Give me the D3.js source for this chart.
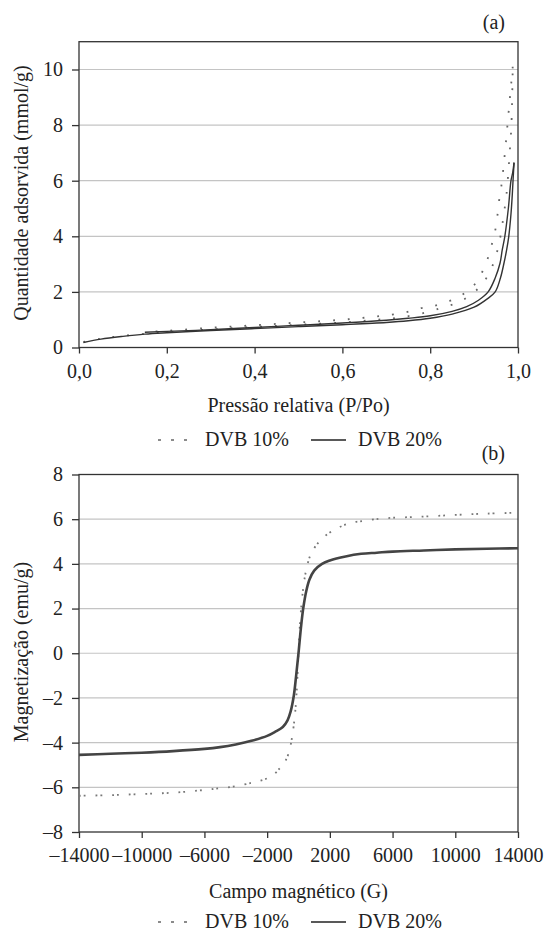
<!DOCTYPE html>
<html>
<head>
<meta charset="utf-8">
<script src="https://cdn.jsdelivr.net/npm/d3@7"></script>
<style>
  body { margin: 0; background: #fff; }
  text { font-family: 'Liberation Serif' !important; }
</style>
</head>
<body>
<div id="chart"></div>
<script>
// (a) adsorption isotherms, relative pressure P/Po vs mmol/g
var dvb10AdsP = [0.01, 0.05, 0.1, 0.2, 0.3, 0.4, 0.5, 0.6, 0.68, 0.74, 0.8, 0.83, 0.862, 0.892, 0.917, 0.936, 0.948, 0.957, 0.963, 0.968, 0.973, 0.977, 0.981, 0.985, 0.988];
var dvb10AdsQ = [0.2, 0.32, 0.42, 0.55, 0.65, 0.74, 0.82, 0.9, 1.0, 1.1, 1.3, 1.45, 1.61, 1.89, 2.25, 2.73, 3.21, 3.75, 4.29, 4.83, 5.4, 6.1, 7.0, 8.0, 10.1];
var dvb10DesP = [0.988, 0.984, 0.98, 0.976, 0.972, 0.967, 0.962, 0.957, 0.953, 0.948, 0.94, 0.93, 0.917, 0.898, 0.872, 0.841, 0.807, 0.777, 0.74, 0.68, 0.6, 0.5, 0.4, 0.3, 0.2, 0.15];
var dvb10DesQ = [10.1, 9.4, 8.7, 8.0, 7.3, 6.5, 5.8, 5.28, 4.73, 4.2, 3.69, 3.15, 2.67, 2.21, 1.89, 1.65, 1.49, 1.41, 1.25, 1.12, 1.0, 0.9, 0.8, 0.71, 0.6, 0.56];
var dvb20AdsP = [0.01, 0.05, 0.1, 0.15, 0.2, 0.3, 0.4, 0.5, 0.6, 0.7, 0.75, 0.8, 0.85, 0.9, 0.93, 0.948, 0.96, 0.968, 0.974, 0.979, 0.984, 0.987, 0.989, 0.991];
var dvb20AdsQ = [0.18, 0.3, 0.4, 0.48, 0.53, 0.61, 0.68, 0.75, 0.82, 0.9, 0.96, 1.05, 1.2, 1.45, 1.75, 2.0, 2.5, 3.03, 3.5, 4.0, 4.8, 5.5, 6.1, 6.65];
var dvb20DesP = [0.991, 0.988, 0.984, 0.978, 0.97, 0.964, 0.959, 0.948, 0.932, 0.91, 0.883, 0.85, 0.8, 0.75, 0.7, 0.6, 0.5, 0.4, 0.3, 0.2, 0.15];
var dvb20DesQ = [6.65, 6.3, 6.0, 5.0, 4.0, 3.5, 3.03, 2.5, 2.0, 1.7, 1.47, 1.3, 1.14, 1.05, 0.98, 0.88, 0.8, 0.72, 0.64, 0.58, 0.55];

// (b) magnetization curves, field G vs emu/g
var dvb10Field = [-14000, -12000, -10000, -8000, -6000, -5000, -4000, -3000, -2500, -2000, -1500, -1200, -900, -640, -420, -220, -100, 0, 100, 250, 400, 600, 800, 1150, 1700, 2500, 3300, 4200, 5500, 7700, 10000, 12000, 14000];
var dvb10Mag = [-6.38, -6.35, -6.3, -6.24, -6.12, -6.04, -5.95, -5.8, -5.72, -5.6, -5.38, -5.15, -4.9, -4.5, -3.8, -2.7, -1.5, 0, 1.4, 2.6, 3.4, 4.05, 4.45, 4.85, 5.25, 5.6, 5.83, 5.93, 6.04, 6.11, 6.19, 6.25, 6.29];
var dvb20Field = [-14000, -12000, -10000, -8000, -6000, -5000, -4000, -3000, -2000, -1500, -1000, -700, -500, -300, -150, 0, 150, 300, 500, 700, 1000, 1500, 2000, 3000, 4000, 5000, 6000, 8000, 10000, 12000, 14000];
var dvb20Mag = [-4.55, -4.5, -4.45, -4.38, -4.28, -4.2, -4.08, -3.92, -3.7, -3.52, -3.3, -3.0, -2.6, -1.9, -1.0, 0, 1.1, 2.0, 2.8, 3.3, 3.7, 4.0, 4.15, 4.33, 4.45, 4.5, 4.55, 4.6, 4.65, 4.68, 4.7];

var topXTicks = [0, 0.2, 0.4, 0.6, 0.8, 1.0];
var topYTicks = [0, 2, 4, 6, 8, 10];
var botXTicks = [-14000, -10000, -6000, -2000, 2000, 6000, 10000, 14000];
var botYTicks = [-8, -6, -4, -2, 0, 2, 4, 6, 8];
var legendNames = ["DVB 10%", "DVB 20%"];

var W = 545, H = 932;
var plotLeft = 79, plotRight = 518;
var SERIF = "Liberation Serif";

var svg = d3.select("#chart").append("svg")
  .attr("width", W)
  .attr("height", H)
  .attr("font-family", SERIF);

function zip(xs, ys) {
  return xs.map(function(x, i) { return { x: x, y: ys[i] }; });
}

function dash(v) {
  var s = Math.abs(v).toString();
  return v < 0 ? "\u2013" + s : s;
}

function addText(parent) {
  return parent.append("text")
    .attr("font-family", SERIF)
    .attr("font-size", 20)
    .attr("fill", "#222");
}

function drawPanel(cfg) {
  var x = d3.scaleLinear().domain(cfg.xDomain).range([plotLeft, plotRight]);
  var y = d3.scaleLinear().domain(cfg.yDomain).range([cfg.bottom, cfg.top]);
  var g = svg.append("g");

  // gridlines
  g.selectAll(".grid")
    .data(cfg.yTicks.filter(function(d) { return d > cfg.yDomain[0] && d < cfg.yDomain[1]; }))
    .enter()
    .append("line")
    .attr("x1", plotLeft)
    .attr("x2", plotRight)
    .attr("y1", function(d) { return y(d); })
    .attr("y2", function(d) { return y(d); })
    .attr("stroke", "#c4c4c4")
    .attr("stroke-width", 1.2);

  // frame
  g.append("rect")
    .attr("x", plotLeft)
    .attr("y", cfg.top)
    .attr("width", plotRight - plotLeft)
    .attr("height", cfg.bottom - cfg.top)
    .attr("fill", "none")
    .attr("stroke", "#333")
    .attr("stroke-width", 1.3);

  var line = d3.line()
    .x(function(d) { return x(d.x); })
    .y(function(d) { return y(d.y); })
    .curve(d3.curveCatmullRom.alpha(0.5));

  cfg.series.forEach(function(s) {
    g.append("path")
      .datum(s.data)
      .attr("d", line)
      .attr("fill", "none")
      .attr("stroke", s.color)
      .attr("stroke-width", s.width)
      .attr("stroke-dasharray", s.dash || null);
  });

  // axes
  var xAxis = d3.axisBottom(x)
    .tickValues(cfg.xTicks)
    .tickSize(6)
    .tickPadding(10)
    .tickFormat(cfg.xFormat);
  var gx = g.append("g")
    .attr("transform", "translate(0," + cfg.bottom + ")")
    .call(xAxis)
    .attr("font-family", SERIF)
    .attr("font-size", 20);
  gx.select(".domain").remove();
  gx.selectAll("line").attr("stroke", "#333").attr("stroke-width", 1.3);
  gx.selectAll("text").attr("fill", "#222").attr("font-family", SERIF);

  var yAxis = d3.axisLeft(y)
    .tickValues(cfg.yTicks)
    .tickSize(7)
    .tickPadding(9)
    .tickFormat(cfg.yFormat);
  var gy = g.append("g")
    .attr("transform", "translate(" + plotLeft + ",0)")
    .call(yAxis)
    .attr("font-family", SERIF)
    .attr("font-size", 20);
  gy.select(".domain").remove();
  gy.selectAll("line").attr("stroke", "#333").attr("stroke-width", 1.3);
  gy.selectAll("text").attr("fill", "#222").attr("font-family", SERIF);

  // titles
  addText(g)
    .attr("x", (plotLeft + plotRight) / 2)
    .attr("y", cfg.xTitleY)
    .attr("text-anchor", "middle")
    .text(cfg.xTitle);

  addText(g)
    .attr("transform", "translate(28," + cfg.yTitleMid + ") rotate(-90)")
    .attr("text-anchor", "middle")
    .text(cfg.yTitle);

  addText(g)
    .attr("x", 505)
    .attr("y", cfg.tagY)
    .attr("text-anchor", "end")
    .text(cfg.tag);

  // legend
  var lg = g.append("g").attr("transform", "translate(0," + cfg.legendY + ")");
  lg.append("line")
    .attr("x1", 158).attr("x2", 193)
    .attr("y1", -6).attr("y2", -6)
    .attr("stroke", "#666")
    .attr("stroke-width", 1.6)
    .attr("stroke-dasharray", "3,10");
  addText(lg).attr("x", 205).attr("y", 0).text(legendNames[0]);
  lg.append("line")
    .attr("x1", 311).attr("x2", 346)
    .attr("y1", -6).attr("y2", -6)
    .attr("stroke", "#222")
    .attr("stroke-width", 1.3);
  addText(lg).attr("x", 358).attr("y", 0).text(legendNames[1]);
}

var commaFmt = function(d) { return d3.format(".1f")(d).replace(".", ","); };

drawPanel({
  top: 41.7, bottom: 347.5,
  xDomain: [0, 1], yDomain: [0, 11],
  xTicks: topXTicks, yTicks: topYTicks,
  xFormat: commaFmt,
  yFormat: function(d) { return d; },
  xTitle: "Pressão relativa (P/Po)", xTitleY: 412,
  yTitle: "Quantidade adsorvida (mmol/g)", yTitleMid: 193,
  tag: "(a)", tagY: 29,
  legendY: 446,
  series: [
    { data: zip(dvb10AdsP, dvb10AdsQ), color: "#666", width: 1.8, dash: "1.8,13" },
    { data: zip(dvb10DesP, dvb10DesQ), color: "#666", width: 1.8, dash: "1.8,13" },
    { data: zip(dvb20AdsP, dvb20AdsQ), color: "#333", width: 1.4 },
    { data: zip(dvb20DesP, dvb20DesQ), color: "#333", width: 1.4 }
  ]
});

drawPanel({
  top: 474.5, bottom: 832,
  xDomain: [-14000, 14000], yDomain: [-8, 8],
  xTicks: botXTicks, yTicks: botYTicks,
  xFormat: dash,
  yFormat: dash,
  xTitle: "Campo magnético (G)", xTitleY: 898,
  yTitle: "Magnetização (emu/g)", yTitleMid: 652,
  tag: "(b)", tagY: 460,
  legendY: 928,
  series: [
    { data: zip(dvb10Field, dvb10Mag), color: "#777", width: 1.8, dash: "1.8,3,1.8,10" },
    { data: zip(dvb20Field, dvb20Mag), color: "#444", width: 2.6 }
  ]
});
</script>
</body>
</html>
